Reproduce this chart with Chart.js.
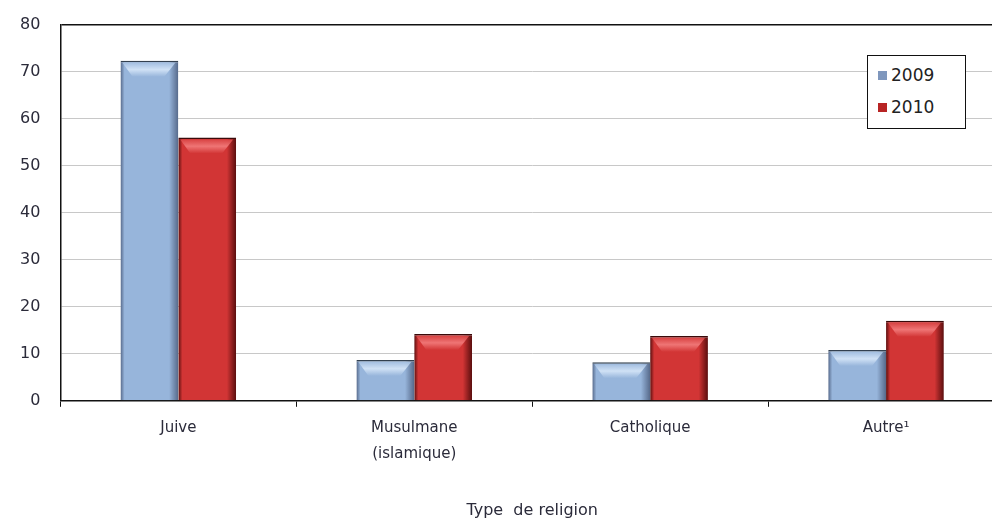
<!DOCTYPE html>
<html lang="fr">
<head>
  <meta charset="UTF-8" />
  <title>Type de religion</title>
  <script src="https://cdn.jsdelivr.net/npm/chart.js"></script>
  <style>
    html, body {
        margin: 0;
        padding: 0;
        background: #fff;
        overflow: hidden;
    }
    .wrap {
        position: relative;
        width: 1012px;
        height: 520px;
    }
    #chart {
        position: absolute;
        left: 0;
        top: -5px;
    }
    .legend {
        position: absolute;
        left: 867px;
        top: 55px;
        width: 99px;
        height: 74px;
        border: 1.5px solid #111;
        background: #fff;
        font-family: 'DejaVu Sans', sans-serif;
        font-size: 17px;
        color: #222;
        box-sizing: border-box;
        padding-top: 5px;
    }
    .legend div {
        height: 32px;
        line-height: 28px;
        padding-left: 10px;
    }
    .legend span {
        display: inline-block;
        width: 9px;
        height: 9px;
        margin-right: 4px;
        vertical-align: 1px;
    }
  </style>
</head>
<body>
  <div class="wrap">
    <canvas id="chart" width="1012" height="532"></canvas>
    <div class="legend" id="legend"></div>
  </div>

  <script>
    // données
    const categories = ['Juive', ['Musulmane', '(islamique)'], 'Catholique', 'Autre\u00B9'];
    const years = ['2009', '2010'];
    const values2009 = [72.3, 8.7, 8.2, 10.8];
    const values2010 = [56, 14.2, 13.8, 17.0];
    const yTicks = [0, 10, 20, 30, 40, 50, 60, 70, 80];

    const palette = {
      '2009': { light: '#d6e6f8', main: '#97b5db', dark: '#56698a', legend: '#7f97bd' },
      '2010': { light: '#f27c7c', main: '#d23535', dark: '#5a0e0e', legend: '#b82424' }
    };
    const catPct = 0.49;

    // dégradé horizontal calculé depuis l'échelle x pour chaque barre
    function barFill(c) {
      const col = palette[c.dataset.label];
      const x = c.chart.scales.x;
      if (!x || !c.chart.chartArea) return col.main;
      const step = x.width / categories.length;
      const bw = step * catPct / 2;
      const center = x.getPixelForValue(c.dataIndex);
      const l = center - bw + c.datasetIndex * bw;
      const g = c.chart.ctx.createLinearGradient(l, 0, l + bw, 0);
      g.addColorStop(0, col.dark);
      g.addColorStop(0.07, col.main);
      g.addColorStop(0.84, col.main);
      g.addColorStop(1, col.dark);
      return g;
    }

    // biseau clair en haut de chaque barre
    const bevel = {
      id: 'bevel',
      afterDatasetsDraw(chart) {
        const ctx = chart.ctx;
        chart.data.datasets.forEach((ds, i) => {
          const c = palette[ds.label];
          chart.getDatasetMeta(i).data.forEach(el => {
            const l = el.x - el.width / 2, r = el.x + el.width / 2;
            const t = el.y, b = el.base;
            const h = Math.min(16, (b - t) / 2);
            ctx.save();
            ctx.beginPath();
            ctx.moveTo(l + 2, t + 2);
            ctx.lineTo(r - 3, t + 2);
            ctx.lineTo(r - 14, t + h);
            ctx.lineTo(l + 12, t + h);
            ctx.closePath();
            const g = ctx.createLinearGradient(0, t, 0, t + h);
            g.addColorStop(0, c.main);
            g.addColorStop(0.55, c.light);
            g.addColorStop(1, c.main);
            ctx.fillStyle = g;
            ctx.globalAlpha = 0.9;
            ctx.fill();
            ctx.restore();
          });
        });
      }
    };

    const ctx = document.getElementById('chart').getContext('2d');
    const chart = new Chart(ctx, {
      type: 'bar',
      data: {
        labels: categories,
        datasets: [
          { label: years[0], data: values2009, backgroundColor: barFill, borderColor: '#33404f' },
          { label: years[1], data: values2010, backgroundColor: barFill, borderColor: '#3a0a0a' }
        ]
      },
      options: {
        responsive: false,
        animation: false,
        layout: { padding: { top: 10, left: 0, right: 8, bottom: 7 } },
        datasets: {
          bar: {
            categoryPercentage: catPct,
            barPercentage: 1,
            borderWidth: { top: 1.5, right: 0, left: 0, bottom: 0 }
          }
        },
        plugins: {
          legend: { display: false },
          tooltip: { enabled: false }
        },
        scales: {
          x: {
            grid: {
              display: true,
              drawOnChartArea: false,
              tickLength: 6,
              color: '#111',
              offset: true
            },
            border: { color: '#111', width: 1.5 },
            ticks: {
              color: '#2b2b3a',
              font: { family: 'DejaVu Sans', size: 15, lineHeight: 1.7 },
              maxRotation: 0,
              padding: 9
            },
            title: {
              display: true,
              text: 'Type  de religion',
              color: '#2b2b3a',
              font: { family: 'DejaVu Sans', size: 16 },
              padding: { top: 25, bottom: 0 }
            }
          },
          y: {
            min: 0,
            max: 80,
            afterBuildTicks(axis) {
              axis.ticks = yTicks.map(v => ({ value: v }));
            },
            grid: {
              color: c => (c.tick && c.tick.value === 80) ? '#111' : '#c8c8c8',
              lineWidth: c => (c.tick && c.tick.value === 80) ? 1.5 : 1,
              tickLength: 0
            },
            border: { color: '#111', width: 1.5 },
            ticks: {
              color: '#2b2b3a',
              font: { family: 'DejaVu Sans', size: 16 },
              padding: 20
            }
          }
        }
      },
      plugins: [bevel]
    });

    // légende construite depuis les séries
    const legend = document.getElementById('legend');
    chart.data.datasets.forEach(ds => {
      const row = document.createElement('div');
      row.innerHTML = '<span style="background:' + palette[ds.label].legend + '"></span>' + ds.label;
      legend.appendChild(row);
    });
  </script>
</body>
</html>
